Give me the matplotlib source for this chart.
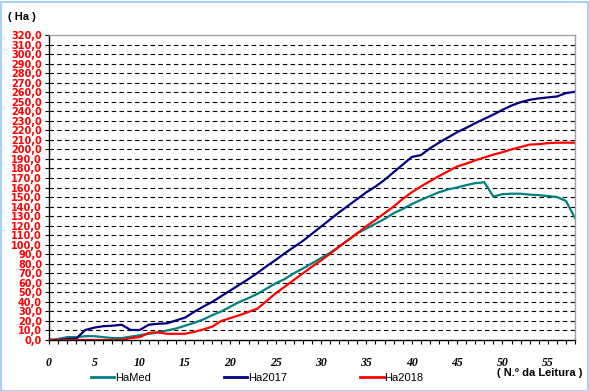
import matplotlib
matplotlib.use("Agg")
import matplotlib.pyplot as plt
from matplotlib.ticker import MultipleLocator, FuncFormatter
from matplotlib.patches import Rectangle

leitura = list(range(0, 59))

ha_med = [0, 1, 3, 3, 4, 4, 3, 2, 2, 3.5, 5, 6.5, 8, 10, 12, 15, 18, 21.5, 26, 30,
          35, 40, 44, 48.5, 54, 59.5, 64, 70, 75, 80.5, 86, 91.5, 98, 105, 112, 117, 122, 127, 133, 137.5,
          142.5, 147, 151, 155, 158, 160, 162.5, 164.5, 165.5, 150.5, 153, 153.5, 153.5, 152.5, 152, 151, 150, 146, 128]

ha_2017 = [0, 0, 1, 1.5, 10.5, 13, 14.5, 15, 16, 10.5, 10.5, 16, 17, 17.5, 20.5, 23.5, 29.5, 35, 40, 46,
           52, 58, 64, 70.5, 77.5, 84, 91, 97.5, 104, 111.5, 119, 126.5, 134, 141, 148, 155, 161, 168, 176, 184,
           192, 194, 201, 207, 212.5, 218, 222.5, 227.5, 232, 236.5, 241.5, 246, 249.5, 252, 253.5, 254.5, 255.5, 259, 260.5]

ha_2018 = [0, 0, 0, 0, 0, 0, 0, 0, 0, 2, 3, 7.5, 8, 6.5, 6.5, 6.5, 8.5, 11, 14, 20,
           23, 26, 29.5, 33, 41, 49, 56, 63, 70, 77, 83.5, 90.5, 98, 105, 112, 119.5, 126, 133, 140, 148,
           155, 161, 166.5, 172, 177, 182, 185, 188.5, 191.5, 194.5, 197, 200, 202.5, 205, 205.5, 206.5, 207, 207, 207]

series_names = ["HaMed", "Ha2017", "Ha2018"]
series_colors = ["#008080", "#000080", "#ff0000"]

W, H = 589, 391
fig = plt.figure(figsize=(W / 100, H / 100), dpi=100)
fig.patch.set_facecolor("white")

ax = fig.add_axes([49 / W, (H - 340) / H, (575 - 49) / W, (340 - 35) / H])
ax.set_xlim(0, 58)
ax.set_ylim(0, 320)

lines = []
for vals, name, col in zip([ha_med, ha_2017, ha_2018], series_names, series_colors):
    ln, = ax.plot(leitura, vals, color=col, lw=1.6, label=name, solid_joinstyle="miter")
    lines.append(ln)

ax.yaxis.set_major_locator(MultipleLocator(10))
ax.yaxis.set_major_formatter(FuncFormatter(lambda v, p: f"{v:.1f}".replace(".", ",")))
ax.xaxis.set_major_locator(MultipleLocator(5))
ax.xaxis.set_minor_locator(MultipleLocator(1))

for y in range(10, 320, 10):
    ax.axhline(y, color="black", lw=0.8, linestyle=(0, (4, 3)), zorder=0.5)

for s in ["top", "right"]:
    ax.spines[s].set_color("#a0a0a0")
    ax.spines[s].set_linewidth(1.0)
for s in ["left", "bottom"]:
    ax.spines[s].set_color("black")
    ax.spines[s].set_linewidth(1.0)

ax.tick_params(axis="y", direction="out", length=3, width=0.8, pad=2, colors="black", labelcolor="red")
ax.tick_params(axis="x", which="major", direction="out", length=3, width=0.8, pad=9)
ax.tick_params(axis="x", which="minor", direction="out", length=3, width=0.8)

for lbl in ax.get_yticklabels():
    lbl.set_fontfamily("DejaVu Sans")
    lbl.set_fontweight("bold")
    lbl.set_fontsize(7)
for lbl in ax.get_xticklabels():
    lbl.set_fontfamily("Liberation Serif")
    lbl.set_fontweight("bold")
    lbl.set_fontstyle("italic")
    lbl.set_fontsize(8.5)

fig.text(8 / W, 1 - 17 / H, "( Ha )", fontsize=8, fontweight="bold",
         family="Liberation Sans", va="center", ha="left")
fig.text(582 / W, 1 - 373 / H, "( N.º da Leitura )", fontsize=8, fontweight="bold",
         family="Liberation Sans", va="center", ha="right")

leg = fig.legend(handles=lines, labels=series_names, loc="center left",
                 bbox_to_anchor=(91 / W, 1 - 378 / H), ncol=3, frameon=False,
                 prop={"family": "Liberation Sans", "size": 8},
                 handlelength=2.1, handletextpad=0.05, columnspacing=6.6,
                 borderpad=0, borderaxespad=0)
for h in leg.legend_handles:
    h.set_linewidth(2)

fig.patches.append(Rectangle((0.5 / W, 0.5 / H), (W - 2) / W, (H - 2) / H,
                             transform=fig.transFigure, fill=False,
                             edgecolor="#a8d0f8", lw=1.5))

fig.savefig("out.png", dpi=100, facecolor="white")
